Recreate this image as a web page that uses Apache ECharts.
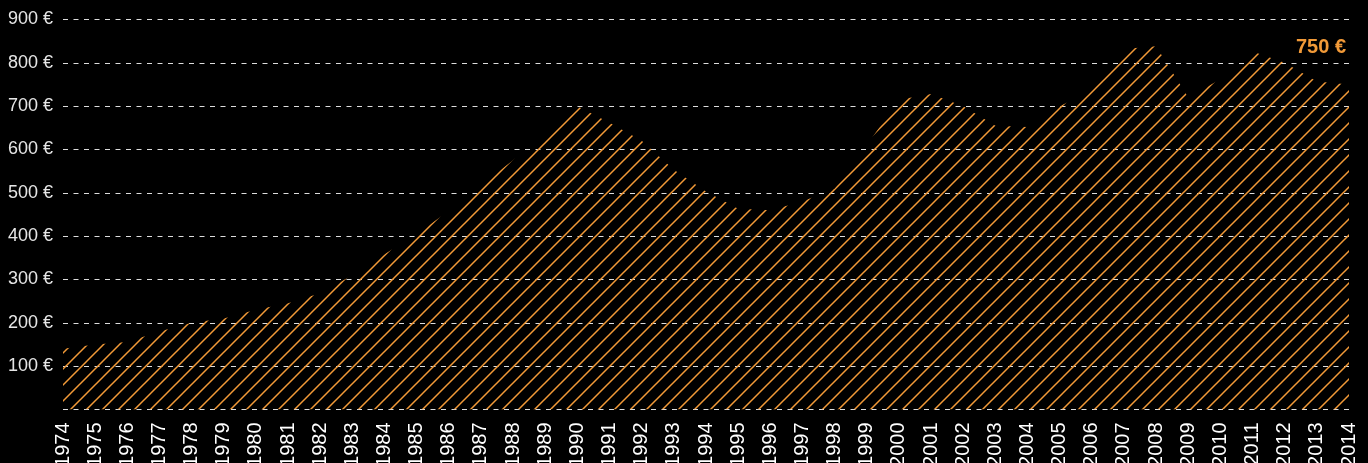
<!DOCTYPE html>
<html>
<head>
<meta charset="utf-8">
<style>
  html, body { margin: 0; padding: 0; background: #000; }
  #chart { width: 1368px; height: 463px; }
</style>
<script src="https://cdn.jsdelivr.net/npm/echarts@6/dist/echarts.min.js"></script>
</head>
<body>
<div id="chart"></div>
<script>
// Years on the horizontal axis
const years = [
  '1974','1975','1976','1977','1978','1979','1980','1981','1982','1983',
  '1984','1985','1986','1987','1988','1989','1990','1991','1992','1993',
  '1994','1995','1996','1997','1998','1999','2000','2001','2002','2003',
  '2004','2005','2006','2007','2008','2009','2010','2011','2012','2013','2014'
];

// Price per year, in euros
const prices = [
  140, 150, 156, 180, 200, 210, 230, 245, 268, 310,
  358, 405, 458, 518, 575, 638, 700, 662, 620, 553,
  503, 463, 460, 480, 510, 610, 715, 728, 700, 655,
  652, 700, 737, 832, 838, 720, 762, 826, 800, 757, 750
];

// Value axis ticks
const yTicks = [0, 100, 200, 300, 400, 500, 600, 700, 800, 900];

const ORANGE = '#f29a38';

// Diagonal hatch tile for the area fill
function hatchPattern(size, color) {
  const c = document.createElement('canvas');
  c.width = size; c.height = size;
  const g = c.getContext('2d');
  g.strokeStyle = color;
  g.lineWidth = 1.5;
  g.lineCap = 'square';
  g.beginPath();
  g.moveTo(-1, size + 1); g.lineTo(size + 1, -1);
  g.moveTo(-1, 1); g.lineTo(1, -1);
  g.moveTo(size - 1, size + 1); g.lineTo(size + 1, size - 1);
  g.stroke();
  return c;
}

const chart = echarts.init(document.getElementById('chart'), null, { renderer: 'canvas' });

chart.setOption({
  backgroundColor: '#000',
  animation: false,
  grid: {
    left: 63, right: 19, top: 19.5, bottom: 53.5,
    containLabel: false,
    outerBoundsMode: 'none'
  },
  xAxis: {
    type: 'category',
    data: years,
    boundaryGap: false,
    axisLine: { show: false },
    axisTick: { show: false },
    splitLine: { show: false },
    axisLabel: {
      interval: 0,
      rotate: 90,
      margin: 13,
      color: '#ffffff',
      fontFamily: 'Liberation Sans, Arial, sans-serif',
      fontSize: 20
    }
  },
  yAxis: {
    type: 'value',
    min: yTicks[0],
    max: yTicks[yTicks.length - 1],
    interval: 100,
    axisLine: { show: false },
    axisTick: { show: false },
    axisLabel: {
      margin: 10,
      color: '#e6e6e6',
      fontFamily: 'Liberation Sans, Arial, sans-serif',
      fontSize: 18,
      formatter: v => (v === 0 ? '' : v + ' €')
    },
    splitLine: {
      show: true,
      lineStyle: { color: '#dddddd', width: 1.2, type: [5, 5.5] }
    }
  },
  series: [{
    type: 'line',
    data: prices,
    showSymbol: false,
    symbol: 'none',
    lineStyle: { width: 0, opacity: 0 },
    areaStyle: {
      color: { image: hatchPattern(16, ORANGE), repeat: 'repeat' },
      opacity: 1
    },
    endLabel: {
      show: true,
      formatter: p => p.value + ' €',
      align: 'right',
      verticalAlign: 'middle',
      distance: 0,
      offset: [-3, -37],
      color: ORANGE,
      fontFamily: 'Liberation Sans, Arial, sans-serif',
      fontWeight: 'bold',
      fontSize: 20
    }
  }]
});
</script>
</body>
</html>
